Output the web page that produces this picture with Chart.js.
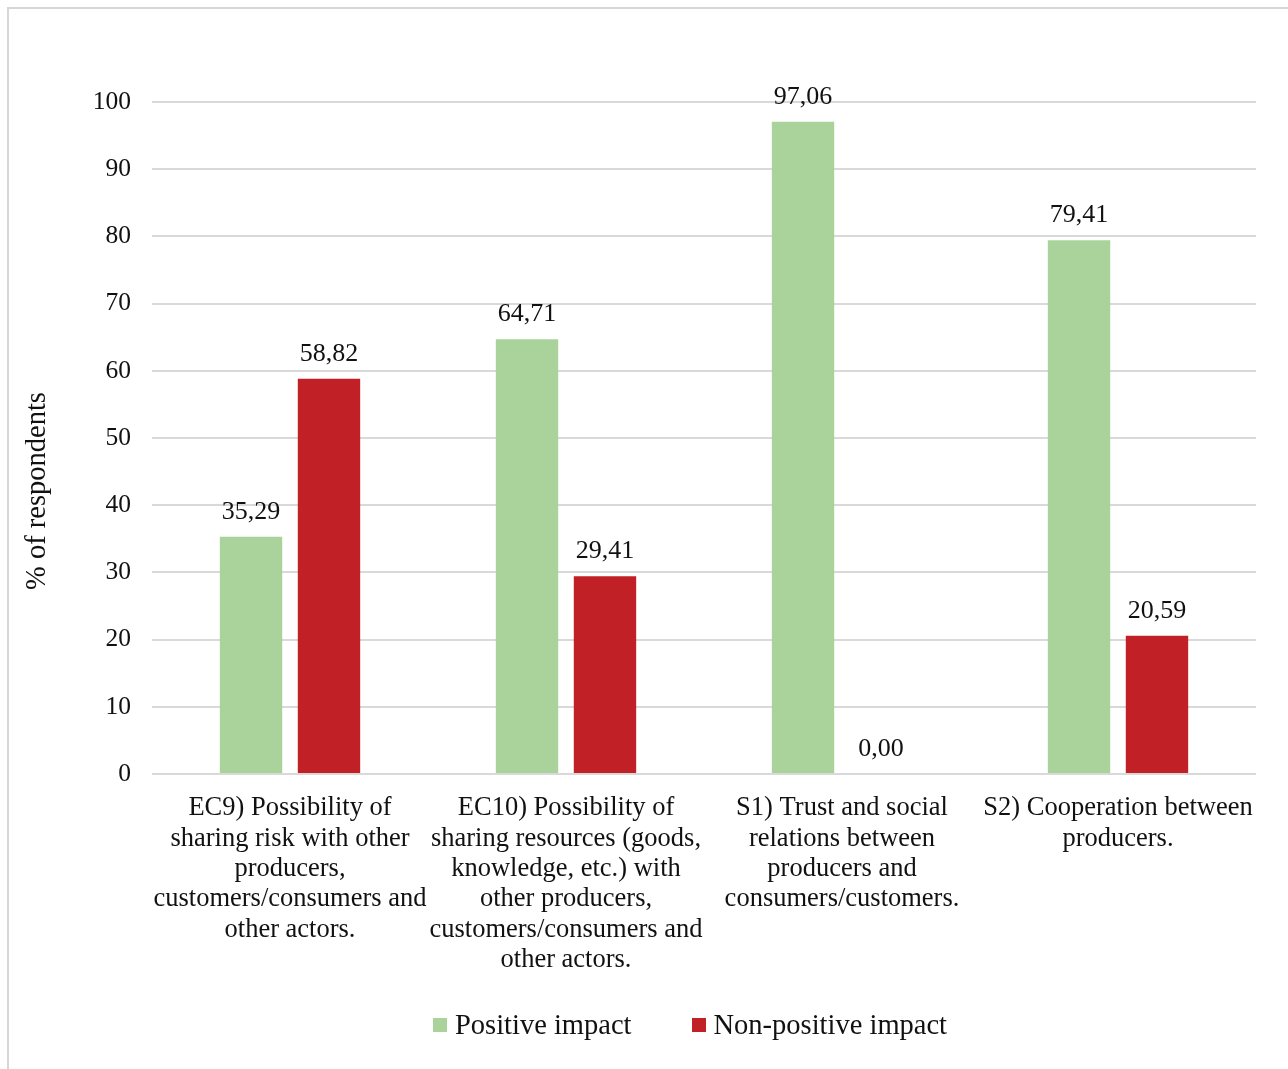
<!DOCTYPE html>
<html>
<head>
<meta charset="utf-8">
<script src="https://cdn.jsdelivr.net/npm/chart.js@4.4.0/dist/chart.umd.min.js"></script>
<style>
  html, body { margin: 0; padding: 0; background: #fff; overflow: hidden; }
  #frame { position: absolute; left: 7px; top: 7px; width: 1320px; height: 1100px;
           border-top: 2px solid #d6d6d6; border-left: 2px solid #d6d6d6; }
  #wrap { position: absolute; left: 0; top: 0; width: 1288px; height: 1069px; }
  #legend { position: absolute; left: 0; top: 1007px; width: 1380px; display: flex;
            justify-content: center; gap: 60px; line-height: 36px;
            font-family: "Liberation Serif", "Times New Roman", serif; font-size: 28.5px; color: #111; }
  #legend .item { display: flex; align-items: center; }
  #legend .box { width: 14px; height: 14px; margin-right: 8px; }
</style>
</head>
<body>
<div id="frame"></div>
<div id="wrap"><canvas id="impactChart"></canvas></div>
<div id="legend"></div>
<script>
const categories = [
  ['EC9) Possibility of', 'sharing risk with other', 'producers,', 'customers/consumers and', 'other actors.'],
  ['EC10) Possibility of', 'sharing resources (goods,', 'knowledge, etc.) with', 'other producers,', 'customers/consumers and', 'other actors.'],
  ['S1) Trust and social', 'relations between', 'producers and', 'consumers/customers.'],
  ['S2) Cooperation between', 'producers.']
];
const positiveImpact = [35.29, 64.71, 97.06, 79.41];
const nonPositiveImpact = [58.82, 29.41, 0.00, 20.59];
const seriesNames = ['Positive impact', 'Non-positive impact'];
const yTitle = '% of respondents';

const FONT = '"Liberation Serif", "Times New Roman", serif';
const TEXT = '#111';

// numbers above each bar, decimal comma
const valueLabels = {
  id: 'valueLabels',
  afterDatasetsDraw(chart) {
    const ctx = chart.ctx;
    ctx.save();
    ctx.font = '26px ' + FONT;
    ctx.fillStyle = TEXT;
    ctx.textAlign = 'center';
    ctx.textBaseline = 'alphabetic';
    chart.data.datasets.forEach((ds, i) => {
      chart.getDatasetMeta(i).data.forEach((bar, j) => {
        ctx.fillText(ds.data[j].toFixed(2).replace('.', ','), bar.x, bar.y - 18);
      });
    });
    ctx.restore();
  }
};

// rotated y title, sits a bit below the middle of the axis
const yAxisTitle = {
  id: 'yAxisTitle',
  afterDraw(chart) {
    const a = chart.chartArea;
    const ctx = chart.ctx;
    ctx.save();
    ctx.translate(a.left - 114, (a.top + a.bottom) / 2 + 53);
    ctx.rotate(-Math.PI / 2);
    ctx.font = '28.5px ' + FONT;
    ctx.fillStyle = TEXT;
    ctx.textAlign = 'center';
    ctx.textBaseline = 'middle';
    ctx.fillText(yTitle, 0, 0);
    ctx.restore();
  }
};

// legend as html under the canvas
const htmlLegend = {
  id: 'htmlLegend',
  afterUpdate(chart) {
    const el = document.getElementById('legend');
    el.innerHTML = '';
    chart.options.plugins.legend.labels.generateLabels(chart).forEach(item => {
      const row = document.createElement('div');
      row.className = 'item';
      const box = document.createElement('span');
      box.className = 'box';
      box.style.background = item.fillStyle;
      const txt = document.createElement('span');
      txt.textContent = item.text;
      row.appendChild(box);
      row.appendChild(txt);
      el.appendChild(row);
    });
  }
};

new Chart(document.getElementById('impactChart'), {
  type: 'bar',
  data: {
    labels: categories,
    datasets: [
      { label: seriesNames[0], data: positiveImpact, backgroundColor: '#a9d39b' },
      { label: seriesNames[1], data: nonPositiveImpact, backgroundColor: '#c12026' }
    ]
  },
  options: {
    responsive: true,
    maintainAspectRatio: false,
    animation: false,
    datasets: { bar: { categoryPercentage: 0.565, barPercentage: 0.8, borderWidth: 0 } },
    layout: { padding: { top: 102, left: 0, right: 32, bottom: 95 } },
    plugins: {
      legend: { display: false },
      tooltip: { enabled: false }
    },
    scales: {
      x: {
        grid: { display: false },
        border: { display: false },
        ticks: {
          color: TEXT, font: { family: FONT, size: 26.5, lineHeight: 1.147 },
          padding: 11, autoSkip: false, maxRotation: 0, minRotation: 0
        },
        afterFit(scale) { scale.height = 200; }
      },
      y: {
        min: 0, max: 100,
        grid: { color: '#d9d9d9', lineWidth: 2, drawTicks: false },
        border: { display: false },
        ticks: { stepSize: 10, color: TEXT, font: { family: FONT, size: 25.5 }, padding: 21 },
        afterFit(scale) { scale.width = 152; }
      }
    }
  },
  plugins: [valueLabels, yAxisTitle, htmlLegend]
});
</script>
</body>
</html>
